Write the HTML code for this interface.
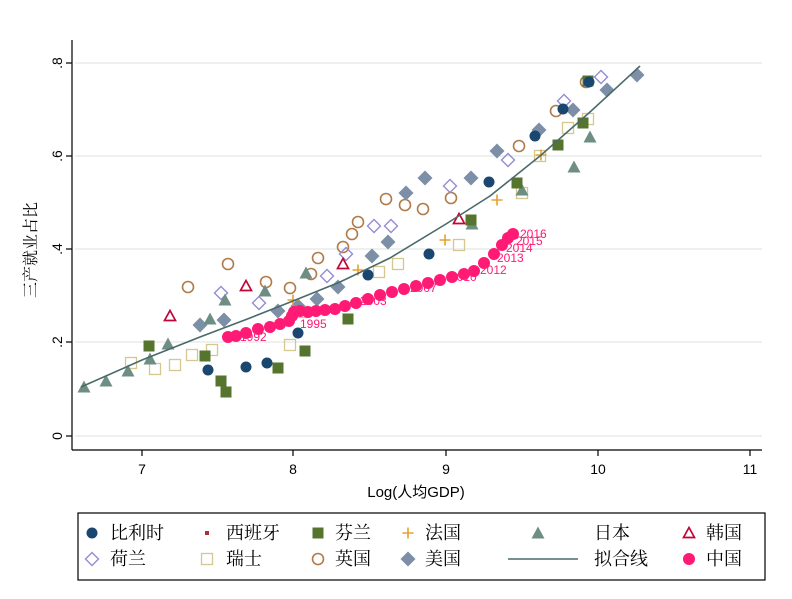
<!DOCTYPE html>
<html><head><meta charset="utf-8"><style>
html,body{margin:0;padding:0;background:#fff;width:792px;height:599px;overflow:hidden}
svg{display:block}
text{font-family:"Liberation Sans","Noto Sans CJK SC",sans-serif}
.cj{font-family:"Liberation Serif","Noto Serif CJK SC",serif}
</style></head><body>
<svg width="792" height="599" viewBox="0 0 792 599" xmlns="http://www.w3.org/2000/svg">
<defs>
<g id="be"><circle r="5.5" fill="#1a476f"/></g>
<g id="fi"><rect x="-5.5" y="-5.5" width="11" height="11" fill="#55752f"/></g>
<g id="fr"><path d="M-5.5 0H5.5M0 -5.5V5.5" stroke="#e8a030" stroke-width="1.6"/></g>
<g id="jp"><path d="M0 -6.5L6.5 5.5H-6.5Z" fill="#6e8e84"/></g>
<g id="kr"><path d="M0 -5.5L5.5 4.5H-5.5Z" fill="none" stroke="#c10534" stroke-width="1.7"/></g>
<g id="nl"><path d="M0 -6.5L6.5 0L0 6.5L-6.5 0Z" fill="none" stroke="#938dd2" stroke-width="1.4"/></g>
<g id="ch"><rect x="-5.5" y="-5.5" width="11" height="11" fill="none" stroke="#d4c890" stroke-width="1.3"/></g>
<g id="uk"><circle r="5.5" fill="none" stroke="#b07a4a" stroke-width="1.6"/></g>
<g id="us"><path d="M0 -7.5L7.5 0L0 7.5L-7.5 0Z" fill="#7d8fa6"/></g>
<g id="cn"><circle r="6" fill="#ff1a75"/></g>
</defs>
<g stroke="#e8ecec" stroke-width="1.5">
<line x1="75" y1="63" x2="762" y2="63"/><line x1="75" y1="156" x2="762" y2="156"/>
<line x1="75" y1="249" x2="762" y2="249"/><line x1="75" y1="342" x2="762" y2="342"/>
<line x1="75" y1="436" x2="762" y2="436"/>
</g>
<g stroke="#000" stroke-width="1.2">
<line x1="72" y1="40" x2="72" y2="450"/><line x1="72" y1="450" x2="762" y2="450"/>
<line x1="66" y1="63" x2="72" y2="63"/><line x1="66" y1="156" x2="72" y2="156"/><line x1="66" y1="249" x2="72" y2="249"/><line x1="66" y1="342" x2="72" y2="342"/><line x1="66" y1="436" x2="72" y2="436"/>
<line x1="142" y1="450" x2="142" y2="456"/><line x1="293" y1="450" x2="293" y2="456"/><line x1="446" y1="450" x2="446" y2="456"/><line x1="598" y1="450" x2="598" y2="456"/><line x1="750" y1="450" x2="750" y2="456"/>
</g>
<g font-size="14" text-anchor="middle">
<text x="142" y="474">7</text><text x="293" y="474">8</text><text x="446" y="474">9</text><text x="598" y="474">10</text><text x="750" y="474">11</text>
<text transform="translate(62,63) rotate(-90)">.8</text><text transform="translate(62,156) rotate(-90)">.6</text><text transform="translate(62,249) rotate(-90)">.4</text><text transform="translate(62,342) rotate(-90)">.2</text><text transform="translate(62,436) rotate(-90)">0</text>
<text x="416" y="497" font-size="15">Log(人均GDP)</text>
<text class="cj" transform="translate(36,250) rotate(-90)" font-size="16">三产就业占比</text>
</g>
<g>
<use href="#ch" x="131" y="363"/><use href="#ch" x="155" y="369"/><use href="#ch" x="175" y="365"/><use href="#ch" x="192" y="355"/><use href="#ch" x="212" y="350"/><use href="#ch" x="290" y="345"/><use href="#ch" x="302" y="312"/><use href="#ch" x="379" y="272"/><use href="#ch" x="398" y="264"/><use href="#ch" x="459" y="245"/><use href="#ch" x="522" y="193"/><use href="#ch" x="540" y="156"/><use href="#ch" x="568" y="128"/><use href="#ch" x="588" y="119"/>
<use href="#uk" x="188" y="287"/><use href="#uk" x="228" y="264"/><use href="#uk" x="266" y="282"/><use href="#uk" x="290" y="288"/><use href="#uk" x="311" y="274"/><use href="#uk" x="318" y="258"/><use href="#uk" x="343" y="247"/><use href="#uk" x="352" y="234"/><use href="#uk" x="358" y="222"/><use href="#uk" x="386" y="199"/><use href="#uk" x="405" y="205"/><use href="#uk" x="423" y="209"/><use href="#uk" x="451" y="198"/><use href="#uk" x="519" y="146"/><use href="#uk" x="556" y="111"/><use href="#uk" x="586" y="82"/>
<use href="#us" x="200" y="325"/><use href="#us" x="224" y="320"/><use href="#us" x="278" y="311"/><use href="#us" x="298" y="306"/><use href="#us" x="317" y="299"/><use href="#us" x="338" y="287"/><use href="#us" x="372" y="256"/><use href="#us" x="388" y="242"/><use href="#us" x="406" y="193"/><use href="#us" x="425" y="178"/><use href="#us" x="471" y="178"/><use href="#us" x="497" y="151"/><use href="#us" x="539" y="130"/><use href="#us" x="573" y="110"/><use href="#us" x="607" y="90"/><use href="#us" x="637" y="75"/>
<use href="#nl" x="221" y="293"/><use href="#nl" x="259" y="303"/><use href="#nl" x="327" y="276"/><use href="#nl" x="346" y="254"/><use href="#nl" x="374" y="226"/><use href="#nl" x="391" y="226"/><use href="#nl" x="450" y="186"/><use href="#nl" x="508" y="160"/><use href="#nl" x="564" y="101"/><use href="#nl" x="601" y="77"/>
<use href="#jp" x="84" y="387"/><use href="#jp" x="106" y="381"/><use href="#jp" x="128" y="371"/><use href="#jp" x="150" y="359"/><use href="#jp" x="168" y="344"/><use href="#jp" x="210" y="319"/><use href="#jp" x="225" y="300"/><use href="#jp" x="265" y="291"/><use href="#jp" x="306" y="273"/><use href="#jp" x="472" y="224"/><use href="#jp" x="522" y="190"/><use href="#jp" x="574" y="167"/><use href="#jp" x="590" y="137"/>
<use href="#kr" x="170" y="316"/><use href="#kr" x="246" y="286"/><use href="#kr" x="343" y="264"/><use href="#kr" x="459" y="219"/>
<use href="#fr" x="293" y="300"/><use href="#fr" x="358" y="270"/><use href="#fr" x="445" y="240"/><use href="#fr" x="497" y="200"/><use href="#fr" x="541" y="155"/>
<use href="#fi" x="149" y="346"/><use href="#fi" x="205" y="356"/><use href="#fi" x="221" y="381"/><use href="#fi" x="226" y="392"/><use href="#fi" x="278" y="368"/><use href="#fi" x="305" y="351"/><use href="#fi" x="348" y="319"/><use href="#fi" x="471" y="220"/><use href="#fi" x="517" y="183"/><use href="#fi" x="558" y="145"/><use href="#fi" x="583" y="123"/><use href="#fi" x="588" y="81"/>
<use href="#be" x="208" y="370"/><use href="#be" x="246" y="367"/><use href="#be" x="267" y="363"/><use href="#be" x="298" y="333"/><use href="#be" x="368" y="275"/><use href="#be" x="429" y="254"/><use href="#be" x="489" y="182"/><use href="#be" x="535" y="136"/><use href="#be" x="563" y="109"/><use href="#be" x="589" y="82"/>
</g>
<polyline fill="none" stroke="#4a6a6a" stroke-width="1.6" points="81,387 142,360 200,337 250,318 293,301 340,282 390,258 446,224 490,196 540,156 590,112 640,66"/>
<g>
<use href="#cn" x="228" y="337"/><use href="#cn" x="236" y="336"/><use href="#cn" x="246" y="333"/><use href="#cn" x="258" y="329"/><use href="#cn" x="270" y="327"/><use href="#cn" x="280" y="324"/><use href="#cn" x="289" y="321"/><use href="#cn" x="292" y="316"/><use href="#cn" x="294" y="312"/><use href="#cn" x="300" y="311"/><use href="#cn" x="308" y="312"/><use href="#cn" x="316" y="311"/><use href="#cn" x="325" y="310"/><use href="#cn" x="335" y="309"/><use href="#cn" x="345" y="306"/><use href="#cn" x="356" y="303"/><use href="#cn" x="368" y="299"/><use href="#cn" x="380" y="295"/><use href="#cn" x="392" y="292"/><use href="#cn" x="404" y="289"/><use href="#cn" x="416" y="286"/><use href="#cn" x="428" y="283"/><use href="#cn" x="440" y="280"/><use href="#cn" x="452" y="277"/><use href="#cn" x="464" y="274"/><use href="#cn" x="474" y="271"/><use href="#cn" x="484" y="263"/><use href="#cn" x="494" y="254"/><use href="#cn" x="502" y="245"/><use href="#cn" x="508" y="238"/><use href="#cn" x="513" y="234"/>
</g>
<g fill="#ff1a75" font-size="12">
<text x="240" y="341">1992</text><text x="300" y="328">1995</text><text x="360" y="305">2003</text><text x="410" y="292">2007</text><text x="450" y="281">2010</text><text x="480" y="274">2012</text><text x="497" y="262">2013</text><text x="506" y="252">2014</text><text x="516" y="245">2015</text><text x="520" y="238">2016</text>
</g>
<rect x="78" y="513" width="687" height="67" fill="#fff" stroke="#000" stroke-width="1.2"/>
<g class="cj" font-size="18">
<use href="#be" x="92" y="533"/><text class="cj" x="110" y="539">比利时</text>
<rect x="205" y="531" width="4" height="4" fill="#b03030"/><text class="cj" x="226" y="539">西班牙</text>
<use href="#fi" x="318" y="533"/><text class="cj" x="335" y="539">芬兰</text>
<use href="#fr" x="408" y="533"/><text class="cj" x="425" y="539">法国</text>
<use href="#jp" x="538" y="533"/><text class="cj" x="594" y="539">日本</text>
<use href="#kr" x="689" y="533"/><text class="cj" x="706" y="539">韩国</text>
<use href="#nl" x="92" y="559"/><text class="cj" x="110" y="565">荷兰</text>
<use href="#ch" x="207" y="559"/><text class="cj" x="226" y="565">瑞士</text>
<use href="#uk" x="318" y="559"/><text class="cj" x="335" y="565">英国</text>
<use href="#us" x="408" y="559"/><text class="cj" x="425" y="565">美国</text>
<line x1="508" y1="559" x2="578" y2="559" stroke="#4a6a6a" stroke-width="1.6"/><text class="cj" x="594" y="565">拟合线</text>
<use href="#cn" x="689" y="559"/><text class="cj" x="706" y="565">中国</text>
</g>
</svg>
</body></html>
